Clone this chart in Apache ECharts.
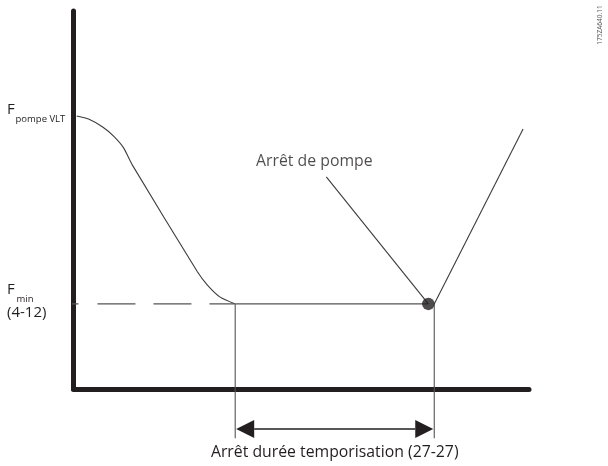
<!DOCTYPE html>
<html>
<head>
<meta charset="utf-8">
<script src="https://cdn.jsdelivr.net/npm/echarts@6/dist/echarts.min.js"></script>
<style>
  html, body { margin: 0; padding: 0; background: #fff; }
  #chart { width: 608px; height: 466px; }
</style>
</head>
<body>
<div id="chart"></div>
<script>
// Frequency (y, arbitrary %) against time (x, arbitrary %) for the pump stop function.
const fMax = 72.2;             // F pompe VLT
const fMin = 22.5;             // F min (4-12)

// Ramp-down of the output frequency from F pompe VLT to F min
const rampTime = [0.7, 3.3, 6.4, 8.8, 11.0, 12.9, 27.2, 29.4, 32.2, 35.5];
const rampFreq = [72.2, 71.4, 69.3, 66.9, 63.8, 59.3, 31.0, 27.5, 24.3, 22.5];

const tFminReached = 35.5;     // F min reached, stop delay starts
const tStop = 77.9;            // pump stop point
const tRestart = 79.2;         // end of stop delay
const restartTime = [79.2, 98.7];
const restartFreq = [22.5, 68.8];

const fminDashStart = -4.4;    // dashed reference reaches left of the axis
const dropLevel = -13;         // lower end of the two marker lines
const arrowLevel = -10.6;      // level of the duration arrow

const stopLabelLine = [[55.5, 56.1], [77.9, 22.5]];
const stopLabelText = 'Arrêt de pompe';
const durationText = 'Arrêt durée temporisation (27-27)';
const fMaxLabel = ['F', 'pompe VLT'];
const fMinLabel = ['F', 'min', '(4-12)'];
const docId = '175ZA640.11';

const INK = '#231f20';
const THIN = '#3c3c3c';
const FONT = '"Open Sans", "Noto Sans", sans-serif';
const TEXT_SIZE = 15.8;

const chart = echarts.init(document.getElementById('chart'), null, { renderer: 'canvas' });

const zip = (xs, ys) => xs.map((x, i) => [x, ys[i]]);

chart.setOption({
  animation: false,
  backgroundColor: '#fff',
  grid: { left: 73.5, right: 79, top: 11, bottom: 77, containLabel: false },
  xAxis: {
    type: 'value', min: 0, max: 100,
    axisLine: { show: true, onZero: false, lineStyle: { color: INK, width: 5 } },
    axisTick: { show: false }, axisLabel: { show: false }, splitLine: { show: false }
  },
  yAxis: {
    type: 'value', min: 0, max: 100,
    axisLine: { show: true, onZero: false, lineStyle: { color: INK, width: 5 } },
    axisTick: { show: false }, axisLabel: { show: false }, splitLine: { show: false }
  },
  series: [
    { // ramp-down curve
      type: 'line', data: zip(rampTime, rampFreq), symbol: 'none', smooth: 0.2, clip: false,
      lineStyle: { color: THIN, width: 1.1 }
    },
    { // dashed F min reference up to the ramp end
      type: 'line', data: [[fminDashStart, fMin], [tFminReached, fMin]], symbol: 'none', clip: false,
      lineStyle: { color: '#555', width: 1.3, type: [25, 19, 38, 18, 38, 18, 25, 200] }
    },
    { // F min held until the pump stops
      type: 'line', data: [[tFminReached, fMin], [tStop, fMin]], symbol: 'none', clip: false,
      lineStyle: { color: '#555', width: 1.3 }
    },
    { // marker at the start of the delay
      type: 'line', data: [[tFminReached, fMin], [tFminReached, dropLevel]], symbol: 'none', clip: false,
      lineStyle: { color: '#555', width: 1.1 }
    },
    { // marker at the end of the delay
      type: 'line', data: [[tRestart, fMin], [tRestart, dropLevel]], symbol: 'none', clip: false,
      lineStyle: { color: '#555', width: 1.1 }
    },
    { // restart ramp
      type: 'line', data: zip(restartTime, restartFreq), symbol: 'none', clip: false,
      lineStyle: { color: THIN, width: 1.1 }
    },
    { // leader line for the stop label
      type: 'line', data: stopLabelLine, symbol: 'none', clip: false,
      lineStyle: { color: THIN, width: 1.1 }
    },
    { // stop label text
      type: 'scatter', data: [stopLabelLine[0]], symbolSize: 0.1, clip: false, silent: true,
      label: {
        show: true, position: 'inside', offset: [-12, -15],
        formatter: stopLabelText, fontSize: TEXT_SIZE, fontFamily: FONT, color: INK
      }
    },
    { // pump stop point
      type: 'scatter', data: [[tStop, fMin]], symbol: 'circle', symbolSize: 12.5, clip: false, z: 5,
      itemStyle: { color: INK }
    },
    { // duration arrow with its caption
      type: 'custom', clip: false,
      data: [[tFminReached, tRestart, arrowLevel]],
      encode: { x: [0, 1], y: 2 },
      renderItem: (params, api) => {
        const a = api.coord([api.value(0), api.value(2)]);
        const b = api.coord([api.value(1), api.value(2)]);
        const head = 19, half = 9;
        return {
          type: 'group',
          children: [
            { type: 'line', shape: { x1: a[0] + head, y1: a[1], x2: b[0] - head, y2: b[1] },
              style: { stroke: INK, lineWidth: 1.4 } },
            { type: 'polygon', shape: { points: [[a[0] + 1, a[1]], [a[0] + head, a[1] - half], [a[0] + head, a[1] + half]] },
              style: { fill: INK } },
            { type: 'polygon', shape: { points: [[b[0] - 1, b[1]], [b[0] - head, b[1] - half], [b[0] - head, b[1] + half]] },
              style: { fill: INK } },
            { type: 'text', x: (a[0] + b[0]) / 2, y: a[1] + 23,
              style: { text: durationText, align: 'center', verticalAlign: 'middle',
                       fontSize: TEXT_SIZE, fontFamily: FONT, fill: INK } }
          ]
        };
      }
    }
  ]
});

// Level labels on the frequency axis, placed at the pixel rows of F max / F min
const yTop = chart.convertToPixel({ yAxisIndex: 0 }, fMax);
const yLow = chart.convertToPixel({ yAxisIndex: 0 }, fMin);
const txt = (text, x, y, size, extra) => Object.assign({
  type: 'text', x, y,
  style: { text, fontSize: size, fontFamily: FONT, fill: INK, align: 'left', verticalAlign: 'middle' }
}, extra || {});

chart.setOption({
  graphic: [
    txt(fMaxLabel[0], 7, yTop - 6, 15),
    txt(fMaxLabel[1], 15.5, yTop + 3.5, 9.5),
    txt(fMinLabel[0], 7, yLow - 14, 15),
    txt(fMinLabel[1], 16.5, yLow - 4.5, 9.5),
    txt(fMinLabel[2], 7, yLow + 8.5, 15),
    {
      type: 'text', x: 600, y: 25, rotation: Math.PI / 2,
      style: { text: docId, fontSize: 6.5, fontFamily: FONT, fill: '#555', align: 'center', verticalAlign: 'middle' }
    }
  ]
});
</script>
</body>
</html>
